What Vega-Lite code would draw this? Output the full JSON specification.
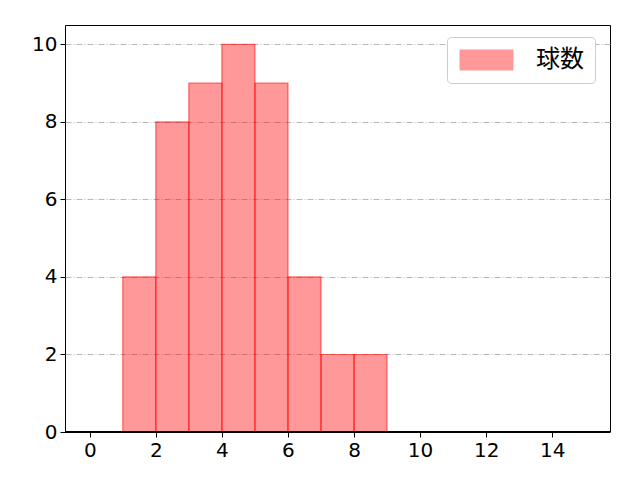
{
  "$schema": "https://vega.github.io/schema/vega-lite/v6.json",
  "width": 545,
  "height": 407,
  "autosize": "none",
  "padding": {"left": 65, "top": 25, "right": 30, "bottom": 48},
  "config": {
    "font": "Noto Sans CJK JP",
    "view": {"stroke": "black", "strokeWidth": 1},
    "axis": {
      "labelFont": "DejaVu Sans",
      "labelFontSize": 20,
      "labelColor": "black",
      "domain": false,
      "tickColor": "black",
      "tickSize": 5,
      "labelPadding": 3
    }
  },
  "data": {
    "values": [
      {"bin_start": 1, "bin_end": 2, "count": 4, "series": "球数"},
      {"bin_start": 2, "bin_end": 3, "count": 8, "series": "球数"},
      {"bin_start": 3, "bin_end": 4, "count": 9, "series": "球数"},
      {"bin_start": 4, "bin_end": 5, "count": 10, "series": "球数"},
      {"bin_start": 5, "bin_end": 6, "count": 9, "series": "球数"},
      {"bin_start": 6, "bin_end": 7, "count": 4, "series": "球数"},
      {"bin_start": 7, "bin_end": 8, "count": 2, "series": "球数"},
      {"bin_start": 8, "bin_end": 9, "count": 2, "series": "球数"}
    ]
  },
  "layer": [
    {
      "mark": {"type": "bar", "fillOpacity": 0.4, "stroke": "red", "strokeOpacity": 0.55, "strokeWidth": 1.2, "cornerRadius": 0},
      "encoding": {
        "x": {
          "field": "bin_start",
          "type": "quantitative",
          "title": null,
          "scale": {"domain": [-0.75, 15.75], "nice": false, "zero": false},
          "axis": {"values": [0, 2, 4, 6, 8, 10, 12, 14], "grid": false, "labelFlush": false}
        },
        "x2": {"field": "bin_end"},
        "y": {
          "field": "count",
          "type": "quantitative",
          "title": null,
          "scale": {"domain": [0, 10.5], "nice": false},
          "axis": {
            "values": [0, 2, 4, 6, 8, 10],
            "grid": true,
            "gridColor": "#b0b0b0",
            "gridDash": [6, 2, 1, 2],
            "gridWidth": 0.9,
            "labelFlush": false
          }
        },
        "y2": {"datum": 0},
        "color": {
          "field": "series",
          "type": "nominal",
          "title": null,
          "scale": {"range": ["red"]},
          "legend": {
            "orient": "none",
            "legendX": 382,
            "legendY": 12,
            "symbolType": "M-2.65,-1H2.65V1H-2.65Z",
            "symbolSize": 400,
            "symbolOffset": 16.5,
            "symbolOpacity": 0.4,
            "symbolStrokeColor": "red",
            "symbolStrokeWidth": 1,
            "labelFontSize": 24,
            "labelColor": "black",
            "labelOffset": 37.5,
            "fillColor": "white",
            "strokeColor": "#cccccc",
            "cornerRadius": 4,
            "padding": 11
          }
        }
      }
    },
    {
      "mark": {"type": "rule", "color": "black", "strokeWidth": 1},
      "encoding": {"y": {"datum": 0}}
    }
  ]
}
